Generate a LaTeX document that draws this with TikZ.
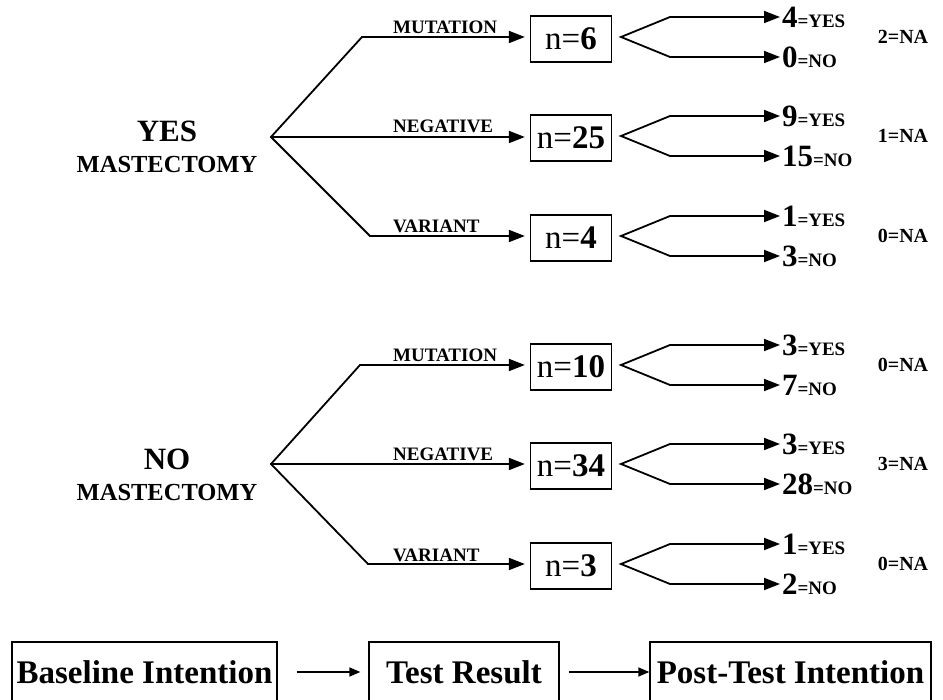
\documentclass[tikz,border=0pt]{standalone}
\usepackage{fontspec}
\setmainfont{Liberation Serif}
\usetikzlibrary{arrows.meta}
\tikzset{
  ln/.style={line width=1.8pt, line join=miter},
  twotip/.style={{Triangle[length=16pt,width=12pt]}-{Triangle[length=16pt,width=12pt]}, shorten <=5pt, shorten >=5pt},
  onetip/.style={-{Triangle[length=16pt,width=12pt]}, shorten >=5pt},
  fantip/.style={{Triangle[length=16pt,width=12pt]}-{Triangle[length=16pt,width=12pt]}, shorten <=2pt, shorten >=2pt},
  bottip/.style={line width=1.4pt, -{Triangle[length=11pt,width=9pt]}},
  hd/.style={font=\bfseries\fontsize{31}{31}\selectfont, inner sep=0pt},
  hdb/.style={font=\bfseries\fontsize{24.5}{25}\selectfont, inner sep=0pt},
  nbox/.style={draw, line width=1.3pt, minimum width=81pt, minimum height=46pt, inner sep=0pt, font=\fontsize{33}{33}\selectfont},
  lab/.style={font=\bfseries\fontsize{19}{19}\selectfont, inner sep=0pt},
  res/.style={font=\bfseries, inner sep=0pt, outer sep=0pt, anchor=west},
  na/.style={font=\bfseries\fontsize{20}{20}\selectfont, inner sep=0pt},
  botbox/.style={draw, line width=1.3pt, minimum height=60pt, inner sep=0pt, font=\bfseries\fontsize{33}{33}\selectfont}
}
\newcommand{\bignum}[1]{{\fontsize{31}{31}\selectfont #1}}
\newcommand{\smlword}[1]{{\fontsize{19}{19}\selectfont #1}}
\begin{document}
\begin{tikzpicture}[x=1pt,y=-1pt]
\useasboundingbox (0,0) rectangle (943,700);
\clip (0,0) rectangle (943,700);

% headings
\node[hd] (yes) at (167,131) {YES};
\node[hdb] (ym) at (167,165) {MASTECTOMY};
\node[hd] (no) at (167,459) {NO};
\node[hdb] (nm) at (167,493) {MASTECTOMY};

% roots and bends
\coordinate (r1) at (271,137);
\coordinate (r2) at (271,464);
\coordinate (u1) at (362,37);
\coordinate (d1) at (370,236);
\coordinate (u2) at (360,365);
\coordinate (d2) at (368,564);

\foreach \i/\y/\a/\b/\na/\n/\lab in {
  1/37/4/0/2/6/MUTATION,
  2/136/9/15/1/25/NEGATIVE,
  3/236/1/3/0/4/VARIANT,
  4/365/3/7/0/10/MUTATION,
  5/464/3/28/3/34/NEGATIVE,
  6/564/1/2/0/3/VARIANT}{
  \node[nbox] (b\i) at (571,\y+2) {n=\textbf{\n}};
  \node[lab, anchor=base west] (l\i) at (393,\y-3) {\lab};
  \coordinate (a\i) at (621,\y);
  \coordinate (fu\i) at (670,\y-20);
  \coordinate (fd\i) at (670,\y+20);
  \node[res] (ry\i) at (782,\y-20) {\bignum{\a}\smlword{=YES}};
  \node[res] (rn\i) at (782,\y+20) {\bignum{\b}\smlword{=NO}};
  \node[na] (na\i) at (903,\y) {\na=NA};
  \draw[ln, fantip] (ry\i) -- (fu\i) -- (a\i) -- (fd\i) -- (rn\i);
}

% tree connectors
\draw[ln, twotip] (b1.west |- u1) -- (u1) -- (r1) -- (d1) -- (b3.west |- d1);
\draw[ln, onetip] (r1) -- (b2.west |- r1);
\draw[ln, twotip] (b4.west |- u2) -- (u2) -- (r2) -- (d2) -- (b6.west |- d2);
\draw[ln, onetip] (r2) -- (b5.west |- r2);

% bottom legend
\node[botbox, minimum width=265pt] (base) at (144.5,672) {Baseline Intention};
\node[botbox, minimum width=190pt] (test) at (464,672) {Test Result};
\node[botbox, minimum width=281pt] (post) at (790.5,672) {Post-Test Intention};
\draw[bottip, shorten <=19pt, shorten >=8pt] (base) -- (test);
\draw[bottip, shorten <=9pt] (test) -- (post);
\end{tikzpicture}
\end{document}
